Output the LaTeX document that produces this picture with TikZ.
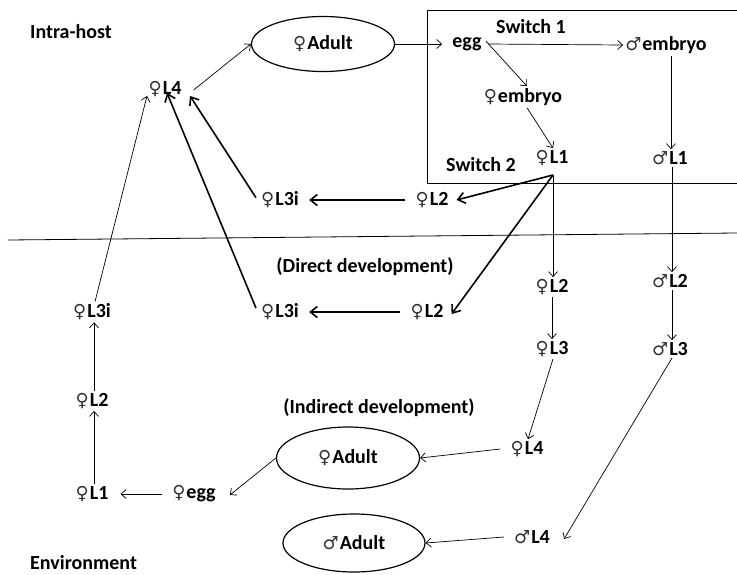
\documentclass[tikz,border=0pt]{standalone}
\usepackage{fontspec}
\setmainfont{Carlito}
\newfontfamily\symf{DejaVu Sans}
\usetikzlibrary{arrows.meta,shapes.geometric}
\newcommand{\fem}{{\symf\mdseries\fontsize{18}{20}\selectfont\color{black!80}♀}\kern1pt}
\newcommand{\mal}{{\symf\mdseries\fontsize{18}{20}\selectfont\color{black!80}♂}\kern1pt}
\begin{document}
\begin{tikzpicture}[x=1pt,y=-1pt,
  lbl/.style={font=\bfseries\fontsize{20}{23}\selectfont, inner sep=2pt},
  ar/.style={-{Straight Barb[length=5pt,width=9pt]}, line width=0.7pt},
  tar/.style={-{Straight Barb[length=7pt,width=11pt]}, line width=1.6pt},
  ell/.style={ellipse, draw, line width=1.2pt, inner sep=0pt, font=\bfseries\fontsize{20}{23}\selectfont}]
\useasboundingbox (0,0) rectangle (737,574);
% frame and divider
\draw[line width=0.8pt] (737,10) -- (427,10) -- (427,183) -- (737,183);
\draw[line width=0.8pt] (8,240) -- (737,233);
% labels
\node[lbl, anchor=west] (intra) at (28,32) {Intra-host};
\node[lbl, anchor=west] (env) at (28,563) {Environment};
\node[lbl] (sw1) at (531,27) {Switch 1};
\node[lbl] (sw2) at (481,165) {Switch 2};
\node[lbl] (direct) at (365,267) {(Direct development)};
\node[lbl] (indirect) at (379,408) {(Indirect development)};
% nodes
\node[ell, minimum width=143pt, minimum height=55pt] (adult1) at (323,44) {\fem Adult};
\node[lbl] (egg) at (467,44) {egg};
\node[lbl] (membryo) at (666,45) {\mal embryo};
\node[lbl] (fembryo) at (523,97) {\fem embryo};
\node[lbl] (fL1) at (552,158) {\fem L1};
\node[lbl] (mL1) at (670,158) {\mal L1};
\node[lbl] (fL4) at (165,89) {\fem L4};
\node[lbl] (fL2a) at (432,200) {\fem L2};
\node[lbl] (fL3ia) at (280,200) {\fem L3i};
\node[lbl] (fL3ib) at (280,312) {\fem L3i};
\node[lbl] (fL2b) at (427,312) {\fem L2};
\node[lbl] (fL2c) at (552,287) {\fem L2};
\node[lbl] (fL3c) at (552,349) {\fem L3};
\node[lbl] (mL2) at (670,281) {\mal L2};
\node[lbl] (mL3) at (670,349) {\mal L3};
\node[lbl] (fL4c) at (527,449) {\fem L4};
\node[lbl] (mL4) at (532,537) {\mal L4};
\node[ell, minimum width=143pt, minimum height=62pt] (adult2) at (348,458) {\fem Adult};
\node[ell, minimum width=142pt, minimum height=58pt] (adult3) at (354,543) {\mal Adult};
\node[lbl] (fegg) at (194,494) {\fem egg};
\node[lbl] (fL1e) at (92,494) {\fem L1};
\node[lbl] (fL2e) at (92,401) {\fem L2};
\node[lbl] (fL3ie) at (92,312) {\fem L3i};
% connector points
\coordinate (s1) at (553,175);
% thin arrows
\draw[ar] ([xshift=10pt,yshift=-1pt]fL4.east) -- (adult1.west);
\draw[ar] (adult1.east) -- ([xshift=-8pt]egg.west);
\draw[ar] ([xshift=4pt]egg.east) -- (membryo.west);
\draw[ar] ([xshift=2pt,yshift=3pt]egg.east) -- ([xshift=4pt]fembryo.north);
\draw[ar] ([xshift=4pt]fembryo.south) -- ([xshift=1pt]fL1.north);
\draw[ar] ([xshift=5pt]membryo.south) -- ([xshift=1pt]mL1.north);
\draw[ar] (s1) -- ([xshift=1pt]fL2c.north);
\draw[ar] ([xshift=2pt]mL1.south) -- ([xshift=2pt]mL2.north);
\draw[ar] ([xshift=0pt]fL2c.south) -- ([xshift=0pt]fL3c.north);
\draw[ar] ([xshift=2pt]mL2.south) -- ([xshift=2pt]mL3.north);
\draw[ar] ([xshift=1pt]fL3c.south) -- ([xshift=1pt]fL4c.north);
\draw[ar] ([xshift=2pt]mL3.south) -- ([xshift=12pt,yshift=-2pt]mL4.east);
\draw[ar] ([xshift=-8pt]fL4c.west) -- (adult2.east);
\draw[ar] ([xshift=-8pt]mL4.west) -- (adult3.east);
\draw[ar] (adult2.west) -- ([xshift=12pt,yshift=-1pt]fegg.east);
\draw[ar] ([xshift=-8pt]fegg.west) -- ([xshift=10pt]fL1e.east);
\draw[ar] ([xshift=2pt]fL1e.north) -- ([xshift=2pt]fL2e.south);
\draw[ar] ([xshift=2pt]fL2e.north) -- ([xshift=2pt]fL3ie.south);
\draw[ar] ([xshift=3pt]fL3ie.north) -- ([xshift=-18pt,yshift=3pt]fL4.south);
% thick arrows
\draw[tar] (s1) -- ([xshift=6pt]fL2a.east);
\draw[tar] (s1) -- ([xshift=6pt,yshift=-2pt]fL2b.east);
\draw[tar] ([xshift=-8pt]fL2a.west) -- ([xshift=8pt]fL3ia.east);
\draw[tar] ([xshift=-8pt]fL2b.west) -- ([xshift=8pt]fL3ib.east);
\draw[tar] ([xshift=-3pt,yshift=-8pt]fL3ia.north west) -- ([xshift=25pt,yshift=3pt]fL4.south);
\draw[tar] ([xshift=-3pt,yshift=4pt]fL3ib.west) -- ([xshift=2pt,yshift=6pt]fL4.south);
\end{tikzpicture}
\end{document}
